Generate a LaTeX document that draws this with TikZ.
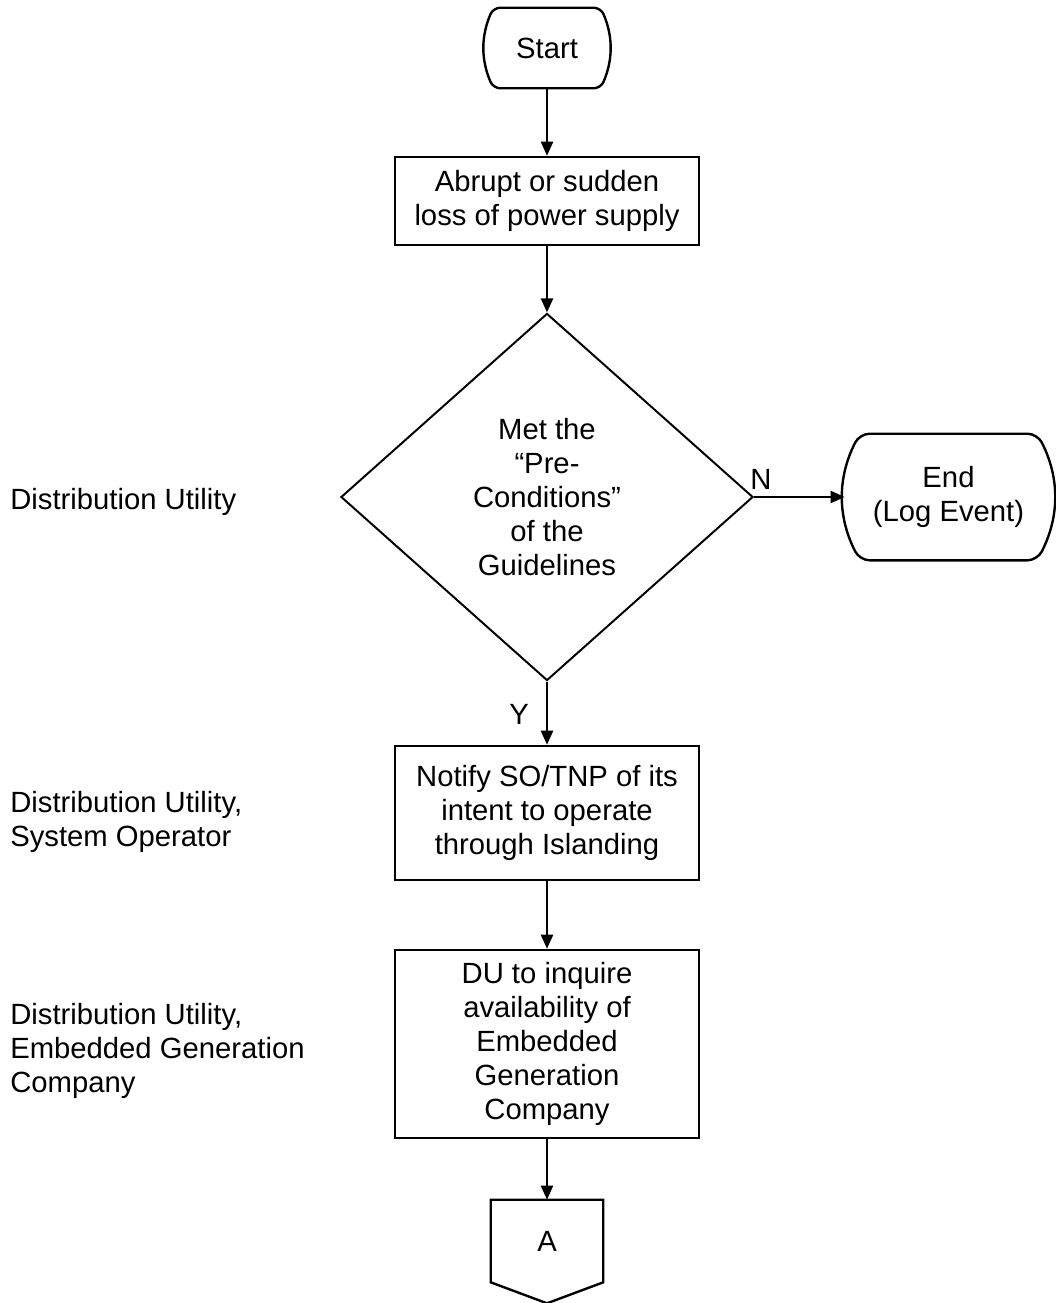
\documentclass[tikz,border=0pt]{standalone}
\usepackage{fontspec}
\setmainfont{Liberation Sans}
\usetikzlibrary{arrows.meta, shapes.geometric, calc}

\begin{document}
\begin{tikzpicture}[x=0.025cm, y=-0.025cm,
  every node/.style={font=\fontsize{20.8}{24.2}\selectfont},
  box/.style={draw, line width=1.7pt, rectangle, align=center, minimum width=7.6cm},
  term/.style={rectangle, align=center, inner sep=0pt},
  arr/.style={line width=1.7pt, -{Triangle[length=10pt, width=8.5pt]}},
  lbl/.style={anchor=west, align=left, inner sep=0pt}]
  \useasboundingbox (0,0) rectangle (1056,1303);

  % inizio
  \node[term, minimum width=2.675cm, minimum height=2cm] (start) at (547,48) {Start};
  \draw[line width=1.7pt, rounded corners=5pt] (start.north) -- (start.north east)
    to[bend left=23] (start.south east) -- (start.south west)
    to[bend left=23] (start.north west) -- cycle;

  % perdita di alimentazione
  \node[box, minimum height=2.2cm] (loss) at (547,201) {Abrupt or sudden\\loss of power supply};

  % decisione
  \node[draw, diamond, line width=1.4pt, minimum width=10.3cm, minimum height=9.175cm,
        align=center, inner sep=0pt] (cond) at (547,497) {Met the\\“Pre-\\Conditions”\\of the\\Guidelines};

  % fine
  \node[term, minimum width=4.425cm, minimum height=3.15cm] (end) at (948.5,497) {End\\(Log Event)};
  \draw[line width=1.7pt, rounded corners=7pt] (end.north) -- (end.north east)
    to[bend left=27] (end.south east) -- (end.south west)
    to[bend left=27] (end.north west) -- cycle;
  \coordinate (endL) at ($(end.west)+(-15,0)$);

  % notifica
  \node[box, minimum height=3.35cm] (notify) at (547,813) {Notify SO/TNP of its\\intent to operate\\through Islanding};

  % richiesta
  \node[box, minimum height=4.7cm] (inquire) at (547,1044) {DU to inquire\\availability of\\Embedded\\Generation\\Company};

  % connettore fuori pagina
  \node[minimum width=2.8cm, minimum height=2.05cm, inner sep=0pt] (conA) at (547,1241) {A};
  \draw[line width=1.7pt] (conA.north west) -- (conA.north east) -- (conA.south east)
    -- ($(conA.south)+(0,21)$) -- (conA.south west) -- cycle;

  % frecce
  \draw[arr] (start) -- (loss);
  \draw[arr] (loss) -- (cond);
  \draw[arr] (cond.east) -- (endL);
  \draw[arr] (cond.south) -- (notify.north);
  \draw[arr] (notify) -- (inquire);
  \draw[arr] (inquire) -- (conA.north);

  % etichette Y/N
  \node (lblN) at (761,479) {N};
  \node (lblY) at (519,714) {Y};

  % responsabili
  \node[lbl] (resp1) at (10,502) {Distribution Utility};
  \node[lbl] (resp2) at (10,822) {Distribution Utility,\\System Operator};
  \node[lbl] (resp3) at (10,1051) {Distribution Utility,\\Embedded Generation\\Company};
\end{tikzpicture}
\end{document}
